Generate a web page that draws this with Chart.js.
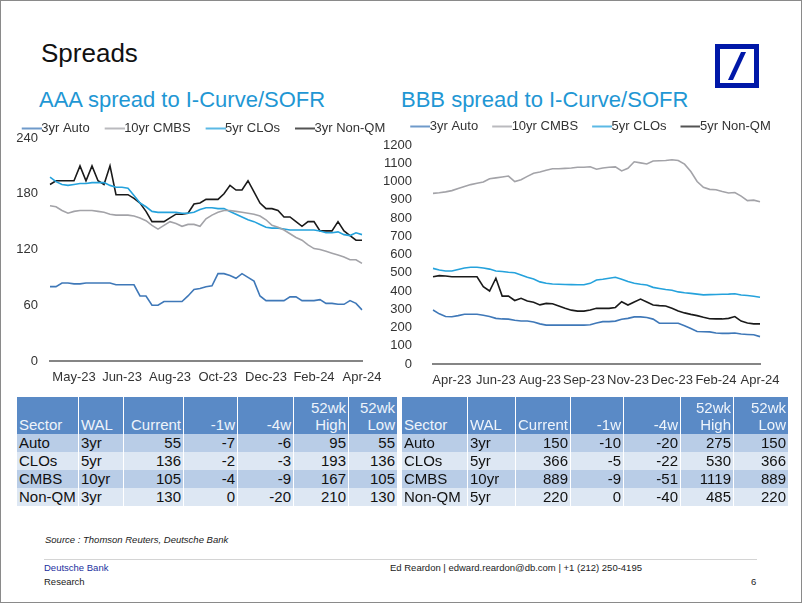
<!DOCTYPE html>
<html>
<head>
<meta charset="utf-8">
<script src="https://cdn.jsdelivr.net/npm/chart.js@4/dist/chart.umd.min.js"></script>
<style>
  html, body { margin: 0; padding: 0; background: #fff; }
  body { width: 802px; height: 603px; position: relative; overflow: hidden; font-family: 'Liberation Sans', Arial, sans-serif; }
  #frame { position: absolute; left: 0; top: 0; width: 800px; height: 601px; border: 1px solid #8a8a8a; }
  .abs { position: absolute; white-space: nowrap; line-height: 1; }
  #title { left: 41px; top: 40px; font-size: 26px; color: #111; }
  .sub { top: 89px; font-size: 22px; color: #1f97d4; }
  canvas { position: absolute; }
  table.t { position: absolute; border-collapse: collapse; table-layout: fixed; font-size: 15px; color: #111; }
  table.t th, table.t td { padding: 0 2px; border-left: 1px solid #fff; border-right: 1px solid #fff; white-space: nowrap; overflow: hidden; }
  table.t th { background: #5a8ac6; color: #eef4fb; font-weight: normal; height: 37px; vertical-align: bottom; line-height: 17px; padding-bottom: 1px; box-sizing: border-box; }
  table.t td { height: 18px; line-height: 18px; }
  table.t tr.r0 td { background: #b9cde7; }
  table.t tr.r1 td { background: #dde7f3; }
  .l { text-align: left; }
  .r { text-align: right; }
  .foot { font-size: 10px; color: #222; }
</style>
</head>
<body>
<div id="frame"></div>
<div id="title" class="abs">Spreads</div>
<div class="abs sub" style="left:39px;">AAA spread to I-Curve/SOFR</div>
<div class="abs sub" style="left:401px;">BBB spread to I-Curve/SOFR</div>
<svg style="position:absolute;left:715px;top:44px;" width="44" height="44" viewBox="0 0 44 44">
  <rect x="2.5" y="2.5" width="39" height="39" fill="#fff" stroke="#0018a8" stroke-width="5"/>
  <polygon points="13,36 18,36 31,8 26,8" fill="#0018a8"/>
</svg>

<canvas id="c1" width="400" height="277" style="left:0px;top:114px;width:400px;height:277px;"></canvas>
<canvas id="c2" width="424" height="281" style="left:375px;top:113px;width:424px;height:281px;"></canvas>

<table id="t1" class="t" style="left:16px;top:397px;width:381px;"></table>
<table id="t2" class="t" style="left:401px;top:397px;width:387px;"></table>

<div class="abs foot" style="left:45px;top:535px;font-style:italic;font-size:9.5px;">Source : Thomson Reuters, Deutsche Bank</div>
<div style="position:absolute;left:44px;top:559px;width:713px;height:1px;background:#d4d4d4;"></div>
<div class="abs foot" style="left:44px;top:563px;color:#1b2f9e;font-size:9.5px;">Deutsche Bank</div>
<div class="abs foot" style="left:44px;top:577px;font-size:9.5px;">Research</div>
<div class="abs foot" style="left:390px;top:563px;font-size:9.5px;">Ed Reardon | edward.reardon@db.com | +1 (212) 250-4195</div>
<div class="abs foot" style="left:751px;top:577px;font-size:9.5px;">6</div>

<script>
// ---------- DATA ----------
// weekly observations, 53 points per chart
const aaaStart = '2023-04-21';
const bbbStart = '2023-04-14';
const aaaTickIndex = [4, 12, 20, 28, 36, 44, 52];
const aaaTickLabels = ['May-23', 'Jun-23', 'Aug-23', 'Oct-23', 'Dec-23', 'Feb-24', 'Apr-24'];
const bbbTickIndex = [3, 10, 17, 24, 31, 38, 45, 52];
const bbbTickLabels = ['Apr-23', 'Jun-23', 'Aug-23', 'Sep-23', 'Nov-23', 'Dec-23', 'Feb-24', 'Apr-24'];

const aaaAuto = [80,80,84,84,83,83,84,84,84,84,84,82,82,82,82,70,70,60,60,64,64,64,64,70,77,78,80,81,94,94,92,89,94,90,86,70,65,65,65,65,69,69,65,65,65,66,62,62,61,61,65,62,55];
const aaaCMBS = [167,166,162,159,161,162,162,162,161,160,158,157,157,157,156,154,151,146,142,146,150,148,145,147,147,145,153,157,160,162,162,161,160,159,158,156,152,146,144,141,137,133,130,125,121,120,118,116,114,112,109,109,105];
const aaaCLO  = [198,193,190,189,190,191,191,192,192,192,189,187,187,186,178,170,166,161,160,160,160,160,159,159,160,163,165,165,164,164,161,158,155,152,150,147,144,143,143,142,141,141,141,141,141,140,138,138,139,136,135,138,136];
const aaaNonQM = [190,194,194,194,194,210,194,210,194,190,210,179,179,179,175,170,161,150,150,150,154,158,158,159,169,170,174,174,174,180,189,184,184,194,182,170,164,164,162,155,155,150,145,150,150,140,140,140,150,140,135,130,130];

const bbbAuto = [296,275,260,259,265,273,273,273,267,260,250,247,246,240,236,236,230,220,213,213,213,214,213,213,213,215,225,232,232,235,245,250,258,258,255,246,224,223,223,223,210,195,178,177,176,170,168,168,170,164,162,160,150];
const bbbCMBS = [935,938,943,950,962,973,983,990,997,1015,1020,1025,1030,1000,1010,1028,1045,1052,1062,1070,1070,1072,1074,1078,1078,1081,1067,1074,1078,1080,1058,1072,1108,1102,1096,1112,1114,1115,1119,1115,1095,1055,1000,968,957,955,945,937,940,920,895,898,889];
const bbbCLO  = [524,515,510,510,518,526,530,530,526,520,510,507,503,500,488,475,466,450,442,438,437,436,435,434,434,442,460,464,470,475,465,452,442,437,433,420,414,408,404,395,390,387,383,379,380,381,382,383,385,378,375,371,366];
const bbbNonQM = [478,484,482,478,478,478,478,478,424,400,470,372,372,348,360,345,338,324,332,330,318,305,295,290,290,296,305,305,305,310,341,323,340,356,340,323,320,318,305,290,280,272,265,256,248,247,247,250,260,235,225,220,220];

const aaaNames = ['3yr Auto', '10yr CMBS', '5yr CLOs', '3yr Non-QM'];
const bbbNames = ['3yr Auto', '10yr CMBS', '5yr CLOs', '5yr Non-QM'];

const tableHead = ['Sector', 'WAL', 'Current', '-1w', '-4w', '52wk<br>High', '52wk<br>Low'];
const aaaTable = [
  ['Auto', '3yr', 55, -7, -6, 95, 55],
  ['CLOs', '5yr', 136, -2, -3, 193, 136],
  ['CMBS', '10yr', 105, -4, -9, 167, 105],
  ['Non-QM', '3yr', 130, 0, -20, 210, 130]
];
const bbbTable = [
  ['Auto', '3yr', 150, -10, -20, 275, 150],
  ['CLOs', '5yr', 366, -5, -22, 530, 366],
  ['CMBS', '10yr', 889, -9, -51, 1119, 889],
  ['Non-QM', '5yr', 220, 0, -40, 485, 220]
];

// ---------- STYLE ----------
const colors = ['#3f78b8', '#a3a3a8', '#25a2dc', '#1a1a1a'];

function weeklyLabels(start, n) {
  const out = [];
  const d = new Date(start + 'T00:00:00Z');
  for (let i = 0; i < n; i++) {
    const x = new Date(d.getTime() + i * 7 * 86400000);
    out.push(x.toISOString().slice(0, 10));
  }
  return out;
}

function lineIcon(color) {
  const c = document.createElement('canvas');
  c.width = 34; c.height = 4;
  const g = c.getContext('2d');
  g.strokeStyle = color; g.lineWidth = 1.5;
  g.beginPath(); g.moveTo(14, 2); g.lineTo(34, 2); g.stroke();
  return c;
}

Chart.defaults.font.family = "'Liberation Sans', Arial, sans-serif";
Chart.defaults.font.size = 13;
Chart.defaults.color = '#333';

function buildTable(id, rows) {
  const t = document.getElementById(id);
  const widths = id === 't1' ? [62, 45, 60, 54, 56, 55, 49] : [66, 48, 55, 53, 57, 53, 55];
  let h = '<colgroup>' + widths.map(w => '<col style="width:' + w + 'px">').join('') + '</colgroup>';
  h += '<tr>' + tableHead.map((s, i) => '<th class="' + (i < 2 ? 'l' : 'r') + '">' + s + '</th>').join('') + '</tr>';
  rows.forEach((r, k) => {
    h += '<tr class="r' + (k % 2) + '">' + r.map((v, i) => '<td class="' + (i < 2 ? 'l' : 'r') + '">' + v + '</td>').join('') + '</tr>';
  });
  t.innerHTML = h;
}
buildTable('t1', aaaTable);
buildTable('t2', bbbTable);

function makeChart(canvasId, cfg) {
  const labels = weeklyLabels(cfg.start, cfg.series[0].length);
  const legendH = cfg.legendH;
  const legendFit = {
    id: 'legendFit',
    beforeInit(chart) {
      const orig = chart.legend.fit;
      chart.legend.fit = function () { orig.call(this); this.height = legendH; };
    }
  };
  return new Chart(document.getElementById(canvasId), {
    type: 'line',
    data: {
      labels: labels,
      datasets: cfg.series.map((s, i) => ({
        label: cfg.names[i],
        data: s,
        borderColor: colors[i],
        backgroundColor: colors[i],
        borderWidth: 1.6,
        pointRadius: 0,
        tension: 0,
        fill: false
      }))
    },
    options: {
      responsive: false,
      animation: false,
      layout: { padding: 0 },
      plugins: {
        tooltip: { enabled: false },
        legend: {
          display: true,
          position: 'top',
          labels: {
            usePointStyle: true,
            pointStyleWidth: 20,
            padding: cfg.legendPad,
            color: '#333',
            font: { size: 13 },
            generateLabels(chart) {
              const items = Chart.defaults.plugins.legend.labels.generateLabels(chart);
              items.forEach((it, i) => { it.pointStyle = lineIcon(colors[i]); });
              return items;
            }
          }
        }
      },
      scales: {
        x: {
          type: 'category',
          grid: { display: false, drawTicks: false },
          border: { display: true, color: '#858585', width: 2 },
          ticks: {
            autoSkip: false, maxRotation: 0, minRotation: 0, padding: 9,
            color: '#333', font: { size: 13 },
            callback: function (v, idx) {
              const k = cfg.tickIndex.indexOf(idx);
              return k >= 0 ? cfg.tickLabels[k] : '';
            }
          },
          afterFit(s) { s.height = 30; }
        },
        y: {
          position: 'left',
          min: 0, max: cfg.max,
          grid: { display: false, drawTicks: false },
          border: { display: false },
          ticks: {
            stepSize: cfg.step, autoSkip: false, padding: cfg.yPad, color: '#333', font: { size: 13 },
            callback: (v) => String(v)
          },
          afterFit(s) { s.width = cfg.yWidth; }
        },
        yR: {
          position: 'right',
          display: true,
          grid: { display: false, drawTicks: false },
          border: { display: false },
          ticks: { display: false },
          afterFit(s) { s.width = cfg.rWidth; }
        }
      }
    },
    plugins: [legendFit]
  });
}

makeChart('c1', {
  start: aaaStart, series: [aaaAuto, aaaCMBS, aaaCLO, aaaNonQM], names: aaaNames,
  tickIndex: aaaTickIndex, tickLabels: aaaTickLabels,
  max: 240, step: 60, yPad: 12, yWidth: 50, rWidth: 38, legendH: 24, legendPad: 8
});
makeChart('c2', {
  start: bbbStart, series: [bbbAuto, bbbCMBS, bbbCLO, bbbNonQM], names: bbbNames,
  tickIndex: bbbTickIndex, tickLabels: bbbTickLabels,
  max: 1200, step: 100, yPad: 21, yWidth: 58, rWidth: 39, legendH: 32, legendPad: 7
});
</script>
</body>
</html>
